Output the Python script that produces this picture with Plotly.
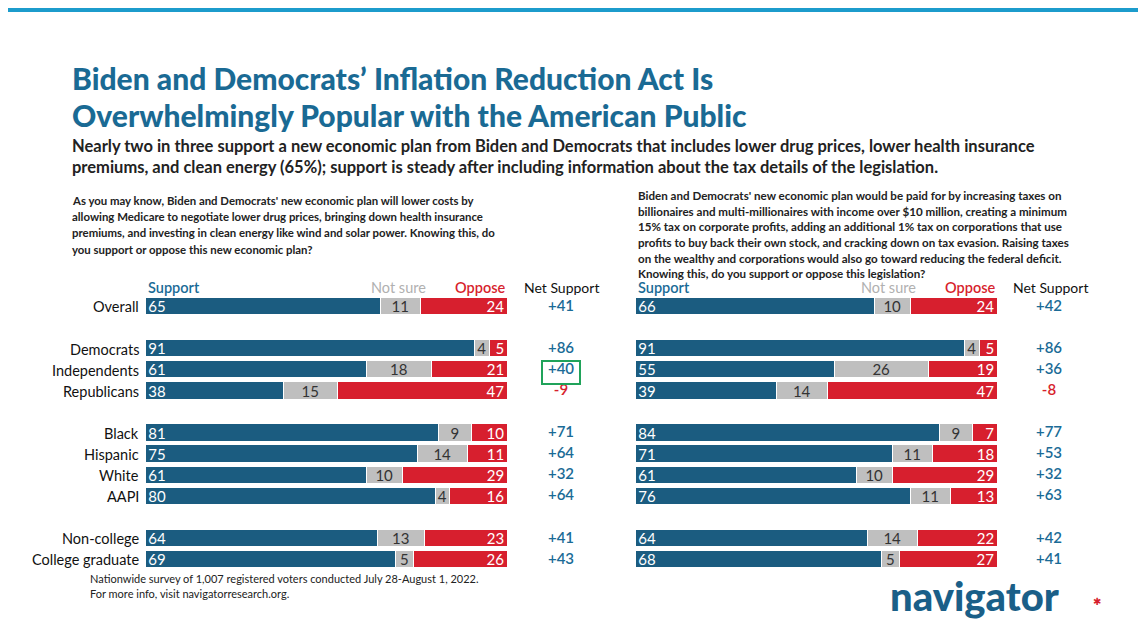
import plotly.graph_objects as go

groups = ["Overall", "Democrats", "Independents", "Republicans", "Black", "Hispanic",
          "White", "AAPI", "Non-college", "College graduate"]
row_slot = [0, 2, 3, 4, 6, 7, 8, 9, 11, 12]  # blank slots separate the groups

l_support = [65, 91, 61, 38, 81, 75, 61, 80, 64, 69]
l_notsure = [11, 4, 18, 15, 9, 14, 10, 4, 13, 5]
l_oppose = [24, 5, 21, 47, 10, 11, 29, 16, 23, 26]
l_net = ["+41", "+86", "+40", "-9", "+71", "+64", "+32", "+64", "+41", "+43"]

r_support = [66, 91, 55, 39, 84, 71, 61, 76, 64, 68]
r_notsure = [10, 4, 26, 14, 9, 11, 10, 11, 14, 5]
r_oppose = [24, 5, 19, 47, 7, 18, 29, 13, 22, 27]
r_net = ["+42", "+86", "+36", "-8", "+77", "+53", "+32", "+63", "+42", "+41"]

BLUE = "#1b5c80"
GREY = "#bfbfbf"
RED = "#d71f2e"
TEAL = "#1a6b96"
FONT = "Lato"
W, H = 1146, 641
DX, DY = -10, -8   # page offset of the plot div

def px(x):
    return (x + DX) / W

def py(y):
    return 1 - (y + DY) / H

fig = go.Figure()

def add_panel(sup, ns, opp, xa):
    for vals, col, tcol, anchor in [(sup, BLUE, "white", "start"),
                                    (ns, GREY, "#333", "middle"),
                                    (opp, RED, "white", "end")]:
        fig.add_trace(go.Bar(
            x=vals, y=row_slot, orientation="h", xaxis=xa, yaxis="y",
            marker=dict(color=col, line=dict(color="white", width=1.5)),
            text=[str(v) for v in vals], textposition="inside",
            insidetextanchor=anchor, textangle=0,
            textfont=dict(color=tcol, size=15, family=FONT),
            width=0.82, showlegend=False, hoverinfo="skip", cliponaxis=False))

add_panel(l_support, l_notsure, l_oppose, "x")
add_panel(r_support, r_notsure, r_oppose, "x2")

def net_col(nets, xa):
    fig.add_trace(go.Scatter(
        x=[0] * len(nets), y=row_slot, mode="text", text=nets, xaxis=xa, yaxis="y",
        textfont=dict(size=15, family=FONT, weight=600,
                      color=[RED if n.startswith("-") else TEAL for n in nets]),
        showlegend=False, hoverinfo="skip"))

net_col(l_net, "x3")
net_col(r_net, "x4")

fig.update_layout(
    width=W, height=H, margin=dict(l=0, r=0, t=0, b=0),
    paper_bgcolor="white", plot_bgcolor="white", barmode="stack", bargap=0,
    font=dict(family=FONT, color="#222"),
    uniformtext=dict(minsize=14, mode="show"),
    xaxis=dict(domain=[px(148), px(510)], range=[0, 100], visible=False),
    xaxis2=dict(domain=[px(638), px(1000)], range=[0, 100], visible=False),
    xaxis3=dict(domain=[px(520), px(606)], range=[-1, 1], visible=False),
    xaxis4=dict(domain=[px(1008), px(1094)], range=[-1, 1], visible=False),
    yaxis=dict(domain=[py(570.5), py(296.4)], range=[12.5, -0.5], visible=False),
)

# row labels
for g, s in zip(groups, row_slot):
    fig.add_annotation(x=px(143), xref="paper", y=s, yref="y", text=g, showarrow=False,
                       xanchor="right", font=dict(size=14.5, family=FONT, color="#111"))

fig.add_shape(type="rect", xref="paper", yref="paper", x0=0, x1=1, y0=py(12), y1=1,
              fillcolor="#1c9ccc", line_width=0)

def ptxt(x, y, text, size, color="#222", anchor="left", weight="normal"):
    fig.add_annotation(x=px(x), y=py(y), xref="paper", yref="paper",
                       text=text, showarrow=False,
                       xanchor=anchor, yanchor="middle", align="left",
                       font=dict(size=size, color=color, family=FONT, weight=weight))

ptxt(72, 78, "Biden and Democrats’ Inflation Reduction Act Is", 30, "#1a6a94", weight=900)
ptxt(72, 115, "Overwhelmingly Popular with the American Public", 30, "#1a6a94", weight=900)
ptxt(72, 146, "Nearly two in three support a new economic plan from Biden and Democrats that includes lower drug prices, lower health insurance", 16.5, weight="bold")
ptxt(72, 167, "premiums, and clean energy (65%); support is steady after including information about the tax details of the legislation.", 16.5, weight="bold")

lq = ["As you may know, Biden and Democrats' new economic plan will lower costs by",
      "allowing Medicare to negotiate lower drug prices, bringing down health insurance",
      "premiums, and investing in clean energy like wind and solar power. Knowing this, do",
      "you support or oppose this new economic plan?"]
for i, t in enumerate(lq):
    ptxt(72, 200 + 16.5 * i, t, 11.4, weight="bold")
rq = ["Biden and Democrats' new economic plan would be paid for by increasing taxes on",
      "billionaires and multi-millionaires with income over $10 million, creating a minimum",
      "15% tax on corporate profits, adding an additional 1% tax on corporations that use",
      "profits to buy back their own stock, and cracking down on tax evasion. Raising taxes",
      "on the wealthy and corporations would also go toward reducing the federal deficit.",
      "Knowing this, do you support or oppose this legislation?"]
for i, t in enumerate(rq):
    ptxt(638, 196 + 15.5 * i, t, 11.6, weight="bold")

for x0, x1, xn in [(148, 510, 563), (638, 1000, 1052)]:
    ptxt(x0, 287, "Support", 14.5, TEAL, weight=600)
    ptxt(x1 - 80, 287, "Not sure", 14.5, "#b0b0b0", anchor="right")
    ptxt(x1, 287, "Oppose", 14.5, RED, anchor="right", weight=600)
    ptxt(xn, 287, "Net Support", 14, "#111", anchor="center")

fig.add_shape(type="rect", xref="paper", yref="paper", x0=px(544), x1=px(582),
              y0=py(384), y1=py(361), line=dict(color="#20a35a", width=2))

ptxt(90, 578, "Nationwide survey of 1,007 registered voters conducted July 28-August 1, 2022.", 11)
ptxt(90, 593, "For more info, visit navigatorresearch.org.", 11)
ptxt(890, 596, "navigator", 40, "#1a5f88", weight=900)
ptxt(1093, 601, "✱", 10, RED)

fig.write_html("out.html")
